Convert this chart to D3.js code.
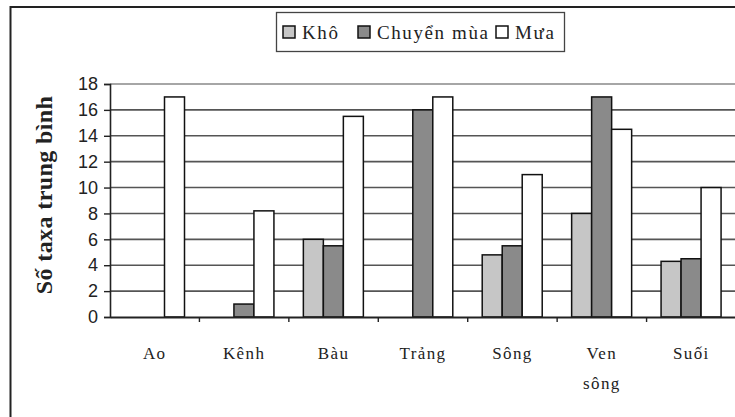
<!DOCTYPE html>
<html lang="en">
<head>
    <meta charset="UTF-8">
    <title>Số taxa trung bình</title>
    <script src="https://d3js.org/d3.v7.min.js"></script>
    <style>
        body { margin: 0; background: #fff; }
    </style>
</head>
<body>
</body>

<script>
    // data
    var categories = ["Ao", "Kênh", "Bàu", "Trảng", "Sông", "Ven sông", "Suối"];
    var seriesNames = ["Khô", "Chuyển mùa", "Mưa"];
    var kho = [0, 0, 6, 0, 4.8, 8, 4.3];
    var chuyenMua = [0, 1, 5.5, 16, 5.5, 17, 4.5];
    var mua = [17, 8.2, 15.5, 17, 11, 14.5, 10];
    var yTicks = [0, 2, 4, 6, 8, 10, 12, 14, 16, 18];

    var seriesValues = [kho, chuyenMua, mua];
    var seriesColors = ["#c6c6c6", "#8a8a8a", "#ffffff"];

    var width = 735;
    var height = 417;
    var serif = "'Liberation Serif', 'Times New Roman', serif";

    var svg = d3.select("body")
        .append("svg")
        .attr("width", width)
        .attr("height", height);

    // outer frame (cut off at right and bottom like the scan)
    svg.append("rect")
        .attr("x", 10.5)
        .attr("y", 7)
        .attr("width", 740)
        .attr("height", 420)
        .attr("fill", "#fff")
        .attr("stroke", "#222")
        .attr("stroke-width", 2);

    var x = d3.scaleBand()
        .domain(categories)
        .range([110, 736]);

    var xInner = d3.scaleBand()
        .domain(seriesNames)
        .range([14.5, 74.5]);

    var y = d3.scaleLinear()
        .domain([0, 18])
        .range([317, 84]);

    // gridlines
    svg.append("g")
        .selectAll("line")
        .data(yTicks.filter(function (d) { return d > 0; }))
        .enter()
        .append("line")
        .attr("x1", 110)
        .attr("x2", 736)
        .attr("y1", function (d) { return y(d); })
        .attr("y2", function (d) { return y(d); })
        .attr("stroke", function (d) { return d == 18 ? "#888" : "#555"; })
        .attr("stroke-width", 1.6);

    // y axis
    var yAxis = svg.append("g")
        .attr("transform", "translate(110,0)")
        .call(d3.axisLeft(y).tickValues(yTicks).tickSize(6).tickPadding(6));
    yAxis.select(".domain").attr("stroke", "#222").attr("stroke-width", 1.6);
    yAxis.selectAll(".tick line").attr("stroke", "#222").attr("stroke-width", 1.4);
    yAxis.selectAll("text")
        .attr("fill", "#222")
        .style("font-family", "'Liberation Sans', Arial, sans-serif")
        .style("font-size", "18px");

    // bars
    var groups = svg.append("g")
        .selectAll("g")
        .data(seriesNames)
        .enter()
        .append("g")
        .attr("fill", function (d, i) { return seriesColors[i]; });

    groups.selectAll("rect")
        .data(function (s, si) {
            return categories.map(function (c, ci) {
                return {cat: c, series: s, value: seriesValues[si][ci]};
            }).filter(function (d) { return d.value > 0; });
        })
        .enter()
        .append("rect")
        .attr("x", function (d) { return x(d.cat) + xInner(d.series); })
        .attr("y", function (d) { return y(d.value); })
        .attr("width", xInner.bandwidth())
        .attr("height", function (d) { return y(0) - y(d.value); })
        .attr("stroke", "#111")
        .attr("stroke-width", 1.5);

    // x axis
    var xAxis = svg.append("g")
        .attr("transform", "translate(0," + y(0) + ")")
        .call(d3.axisBottom(x).tickSize(0).tickFormat(""));
    xAxis.select(".domain").attr("stroke", "#222").attr("stroke-width", 1.8);

    svg.append("g")
        .selectAll("line")
        .data(categories.slice(1))
        .enter()
        .append("line")
        .attr("x1", function (d) { return x(d); })
        .attr("x2", function (d) { return x(d); })
        .attr("y1", y(0))
        .attr("y2", y(0) + 5)
        .attr("stroke", "#222")
        .attr("stroke-width", 1.4);

    svg.append("g")
        .selectAll("text")
        .data(categories)
        .enter()
        .append("text")
        .attr("x", function (d) { return x(d) + x.bandwidth() / 2; })
        .attr("y", 359)
        .attr("text-anchor", "middle")
        .attr("fill", "#222")
        .style("font-family", serif)
        .style("font-size", "17px")
        .style("letter-spacing", "1.4px")
        .each(function (d) {
            var parts = d.split(" ");
            var t = d3.select(this);
            parts.forEach(function (p, i) {
                t.append("tspan")
                    .attr("x", x(d) + x.bandwidth() / 2)
                    .attr("dy", i == 0 ? 0 : 30)
                    .text(p);
            });
        });

    // y title
    svg.append("text")
        .attr("transform", "translate(52,195) rotate(-90)")
        .attr("text-anchor", "middle")
        .attr("fill", "#222")
        .style("font-family", serif)
        .style("font-size", "24px")
        .style("font-weight", "bold")
        .style("letter-spacing", "0.4px")
        .text("Số taxa trung bình");

    // legend
    var legend = svg.append("g");
    legend.append("rect")
        .attr("x", 276.5)
        .attr("y", 12.5)
        .attr("width", 288)
        .attr("height", 39)
        .attr("fill", "#fff")
        .attr("stroke", "#444")
        .attr("stroke-width", 1.3);

    var legendX = [283, 358, 496];
    var items = legend.selectAll("g")
        .data(seriesNames)
        .enter()
        .append("g")
        .attr("transform", function (d, i) { return "translate(" + legendX[i] + ",26)"; });
    items.append("rect")
        .attr("width", 12)
        .attr("height", 12)
        .attr("fill", function (d, i) { return seriesColors[i]; })
        .attr("stroke", "#111")
        .attr("stroke-width", 1.5);
    items.append("text")
        .attr("x", 19)
        .attr("y", 13)
        .attr("fill", "#222")
        .style("font-family", serif)
        .style("font-size", "19px")
        .style("letter-spacing", "1.6px")
        .text(function (d) { return d; });
</script>
</html>
